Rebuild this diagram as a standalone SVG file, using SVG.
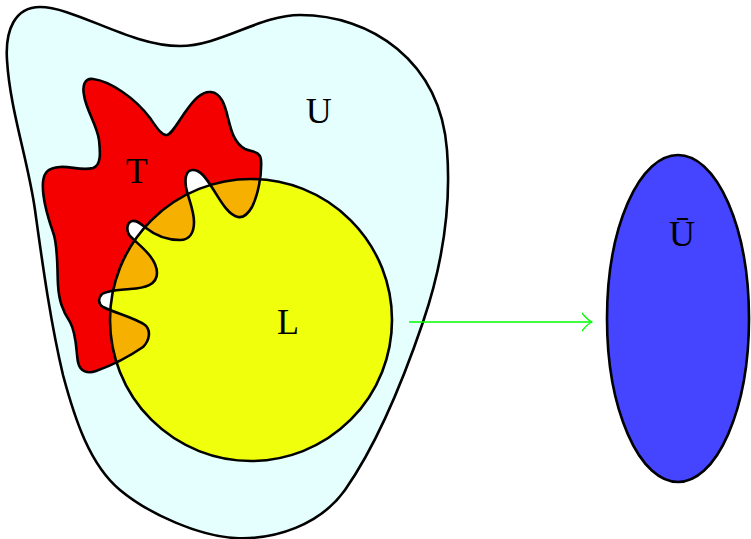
<svg xmlns="http://www.w3.org/2000/svg" width="751" height="539" viewBox="0 0 751 539">
  <style>
    .edge { fill: none; stroke: #000; stroke-width: 2.6; stroke-linejoin: round; }
    .lbl { font-family: "Liberation Serif", "Times New Roman", serif; font-size: 36px; fill: #000; text-anchor: middle; }
    .conn { fill: none; stroke: #00ff00; stroke-width: 1.3; }
  </style>
  <defs>
    <path id="tShape" d="M 84,95 C 82,85 85,78 93,79 C 110,81 135,98 150,118 C 157,128 162,136 167,135 C 172,134 178,122 186,111 C 193,101 201,91 211,92 C 221,93 225,105 228,118 C 231,130 234,143 245,149 C 252,152 260,151 261,160 C 262,175 258,195 252,207 C 248,214 243,218 238,217 C 228,215 220,200 213,189 C 206,178 200,169 192,170 C 185,171 185,180 186,187 C 188,198 194,210 194,222 C 194,232 190,240 180,240 C 168,240 156,236 146,228 C 141,224 137,220 132,221 C 126,223 126,232 131,237 C 140,246 157,258 157,273 C 157,285 145,288 130,289 C 118,290 108,290 102,294 C 98,298 98,304 103,307 C 115,313 135,318 145,325 C 151,330 150,340 143,347 C 130,356 110,366 96,371 C 88,374 80,372 78,362 C 76,352 77,335 70,322 C 62,310 59,300 58,285 C 57,265 58,245 53,232 C 47,215 42,195 43,182 C 44,172 48,168 60,167 C 70,166 82,171 93,168 C 102,165 100,150 99,140 C 97,125 86,110 84,95 Z"/>
    <clipPath id="lClip">
      <circle cx="251" cy="320" r="141"/>
    </clipPath>
    <marker id="toArrow" markerUnits="userSpaceOnUse" markerWidth="14" markerHeight="24" viewBox="0 0 14 24" refX="10.5" refY="12" orient="auto">
      <path d="M 0,2.5 Q 6,10 10.5,12 Q 6,14 0,21.5" fill="none" stroke="#00ff00" stroke-width="1.3"/>
    </marker>
  </defs>

  <g id="U">
    <path class="edge" style="fill:#e5ffff" d="M 40,7 C 75,7 130,46 180,46 C 220,46 260,15 300,15 C 370,15 440,60 447,150 C 452,215 440,272 423,322 C 406,372 380,440 345,490 C 320,525 275,540 235,538 C 200,536 150,515 120,490 C 90,465 75,420 63,375 C 50,320 42,260 35,210 C 28,160 10,110 7,60 C 5,30 15,7 40,7 Z"/>
    <text class="lbl" x="318.7" y="123">U</text>
  </g>

  <g id="T">
    <g fill="#ffffff">
      <ellipse cx="197" cy="184" rx="11" ry="13"/>
      <ellipse cx="134" cy="230" rx="7" ry="9"/>
      <ellipse cx="105" cy="300" rx="6" ry="8"/>
    </g>
    <use href="#tShape" fill="#f50000"/>
  </g>

  <g id="L">
    <circle cx="251" cy="320" r="141" fill="#f0ff0c"/>
    <use href="#tShape" fill="#f5b000" clip-path="url(#lClip)"/>
    <circle class="edge" cx="251" cy="320" r="141"/>
    <text class="lbl" x="288" y="334">L</text>
  </g>

  <g id="T-outline">
    <use href="#tShape" class="edge"/>
    <text class="lbl" x="136.7" y="183">T</text>
  </g>

  <g id="Ubar">
    <ellipse class="edge" style="fill:#4545ff" cx="678" cy="318.5" rx="71" ry="163.5"/>
    <text class="lbl" x="682" y="246">Ū</text>
  </g>

  <g id="connectors">
    <line class="conn" x1="409" y1="322" x2="592" y2="322" marker-end="url(#toArrow)"/>
  </g>
</svg>
